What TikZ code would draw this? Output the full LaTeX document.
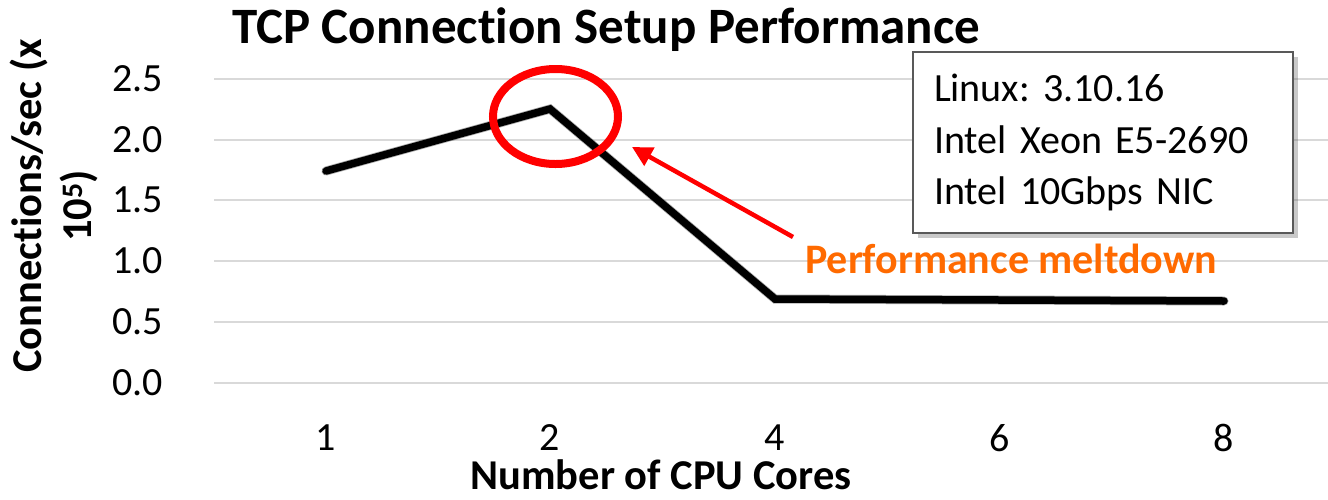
\documentclass[tikz,border=0pt]{standalone}
\usepackage{fontspec}
\setmainfont{Carlito}[Ligatures={NoCommon}]
\usetikzlibrary{shapes.geometric,arrows.meta,shadows}
\definecolor{gridgray}{HTML}{D9D9D9}
\definecolor{meltorange}{HTML}{FF6A00}
\definecolor{boxedge}{HTML}{595959}
\frenchspacing
\tikzset{
  gridline/.style={draw=gridgray,line width=2pt},
  ticklabel/.style={font=\fontsize{40}{48}\selectfont,inner sep=0pt},
  axistitle/.style={font=\fontsize{42.5}{50}\selectfont\bfseries,inner sep=0pt},
  dataline/.style={line width=7.5pt,line cap=round,line join=miter},
  lineshadow/.style={line width=9pt,line cap=round,line join=miter,draw=black,opacity=0.12},
  infobox/.style={draw=boxedge,line width=1.5pt,fill=white,minimum width=380pt,minimum height=181pt,
    text width=338pt,align=left,inner xsep=21pt,font=\fontsize{40}{51.5}\selectfont,
    drop shadow={shadow xshift=5pt,shadow yshift=-5pt,opacity=0.3,fill=black!70}},
  callout/.style={draw=red,line width=8pt,ellipse,minimum width=125pt,minimum height=95pt,inner sep=0pt},
  pointer/.style={draw=red,line width=4.5pt,-{Triangle[length=20pt,width=20pt]}},
}
\begin{document}
\begin{tikzpicture}[x=1pt,y=-1pt]
\useasboundingbox (0,0) rectangle (1328,499);

% horizontal grid and value labels
\foreach \v/\yy in {0.0/383,0.5/322,1.0/261,1.5/200,2.0/140,2.5/79}{
  \draw[gridline] (214,\yy) -- (1328,\yy);
  \node[ticklabel,anchor=east] (y\v) at (163,\yy) {\v};
}

% category labels
\foreach \c/\xx in {1/326,2/550,4/775,6/1000,8/1224}{
  \node[ticklabel] (x\c) at (\xx,438) {\c};
}

% titles
\node[font=\fontsize{51}{58}\selectfont\bfseries,anchor=base west,inner sep=0pt] (title) at (232,43)
  {TCP Connection Setup Performance};
\node[axistitle,anchor=base] (xtitle) at (661,489) {Number of CPU Cores};
\node[axistitle,rotate=90,align=center] (ytitle) at (54,206) {Connections/sec (x\\10\textsuperscript{5})};

% data points
\coordinate (p1) at (326,171);
\coordinate (p2) at (550,109);
\coordinate (p4) at (775,299);
\coordinate (p6) at (1000,300);
\coordinate (p8) at (1224,301);

% series with soft shadow
\foreach \dx/\dy in {2/3,3/5,4/6}{
  \draw[lineshadow,shift={(\dx,\dy)}] (p1) -- (p2) -- (p4) -- (p6) -- (p8);
}
\draw[dataline] (p1) -- (p2) -- (p4) -- (p6) -- (p8);

% peak highlight and annotation
\node[callout] (peak) at (555.5,116.5) {};
\node[font=\fontsize{42}{50}\selectfont\bfseries,text=meltorange,anchor=west,inner sep=0pt] (melt) at (805,259)
  {Performance meltdown};
\coordinate (tail) at (793,237);
\coordinate (tip) at (632,147);
\draw[pointer] (tail) -- (tip);

% test setup box
\node[infobox] (setup) at (1103,142.5) {Linux: 3.10.16\\Intel Xeon E5-2690\\Intel 10Gbps NIC};
\end{tikzpicture}
\end{document}
